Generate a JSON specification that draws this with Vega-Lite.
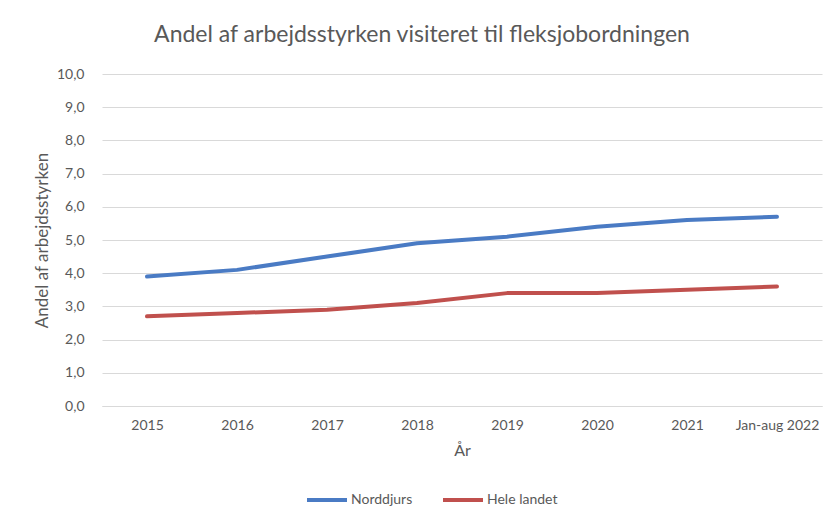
{
  "$schema": "https://vega.github.io/schema/vega-lite/v6.json",
  "width": 720,
  "height": 332,
  "autosize": {"type": "none"},
  "padding": {"left": 102, "top": 74, "right": 8, "bottom": 114},
  "background": "white",
  "title": {
    "text": "Andel af arbejdsstyrken visiteret til fleksjobordningen",
    "font": "Lato",
    "fontSize": 23,
    "fontWeight": "normal",
    "color": "#595959",
    "anchor": "middle",
    "frame": "group",
    "dx": -40,
    "offset": 20
  },
  "data": {
    "values": [
      {"aar": "2015", "serie": "Norddjurs", "andel": 3.9},
      {"aar": "2016", "serie": "Norddjurs", "andel": 4.1},
      {"aar": "2017", "serie": "Norddjurs", "andel": 4.5},
      {"aar": "2018", "serie": "Norddjurs", "andel": 4.9},
      {"aar": "2019", "serie": "Norddjurs", "andel": 5.1},
      {"aar": "2020", "serie": "Norddjurs", "andel": 5.4},
      {"aar": "2021", "serie": "Norddjurs", "andel": 5.6},
      {"aar": "Jan-aug 2022", "serie": "Norddjurs", "andel": 5.7},
      {"aar": "2015", "serie": "Hele landet", "andel": 2.7},
      {"aar": "2016", "serie": "Hele landet", "andel": 2.8},
      {"aar": "2017", "serie": "Hele landet", "andel": 2.9},
      {"aar": "2018", "serie": "Hele landet", "andel": 3.1},
      {"aar": "2019", "serie": "Hele landet", "andel": 3.4},
      {"aar": "2020", "serie": "Hele landet", "andel": 3.4},
      {"aar": "2021", "serie": "Hele landet", "andel": 3.5},
      {"aar": "Jan-aug 2022", "serie": "Hele landet", "andel": 3.6}
    ]
  },
  "mark": {"type": "line", "strokeWidth": 4, "strokeCap": "round", "strokeJoin": "round"},
  "encoding": {
    "x": {
      "field": "aar",
      "type": "ordinal",
      "sort": null,
      "scale": {"type": "point", "padding": 0.5},
      "axis": {
        "title": "År",
        "labelAngle": 0,
        "labelPadding": 12,
        "titlePadding": 10,
        "ticks": false,
        "grid": false,
        "domainColor": "#d9d9d9",
        "domainWidth": 1
      }
    },
    "y": {
      "field": "andel",
      "type": "quantitative",
      "scale": {"domain": [0, 10]},
      "axis": {
        "title": "Andel af arbejdsstyrken",
        "titleFontSize": 17,
        "values": [0, 1, 2, 3, 4, 5, 6, 7, 8, 9, 10],
        "labelExpr": "replace(format(datum.value, '.1f'), '.', ',')",
        "ticks": false,
        "domain": false,
        "gridColor": "#d9d9d9",
        "labelPadding": 18,
        "titlePadding": 5
      }
    },
    "color": {
      "field": "serie",
      "type": "nominal",
      "sort": ["Norddjurs", "Hele landet"],
      "scale": {"domain": ["Norddjurs", "Hele landet"], "range": ["#4A7BC4", "#C0504D"]},
      "legend": {
        "title": null,
        "orient": "none",
        "direction": "horizontal",
        "legendX": 203,
        "legendY": 404,
        "symbolType": "stroke",
        "symbolSize": 1600,
        "symbolStrokeWidth": 4,
        "labelOffset": 2,
        "columnPadding": 22
      }
    }
  },
  "config": {
    "font": "Lato",
    "view": {"stroke": null},
    "axis": {
      "labelFont": "Lato",
      "titleFont": "Lato",
      "labelFontSize": 14,
      "titleFontSize": 16,
      "labelColor": "#595959",
      "titleColor": "#595959",
      "titleFontWeight": "normal"
    },
    "legend": {
      "labelFont": "Lato",
      "labelFontSize": 14,
      "labelColor": "#595959"
    }
  }
}
